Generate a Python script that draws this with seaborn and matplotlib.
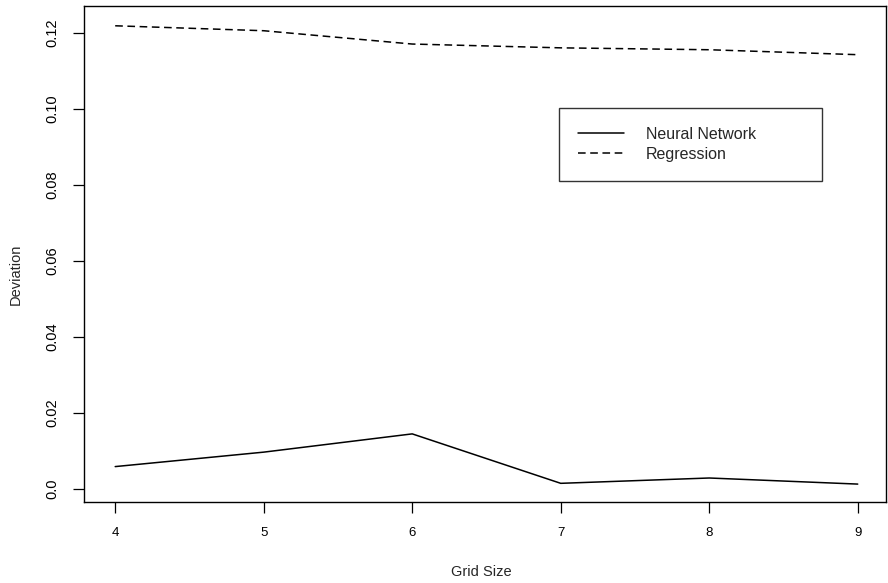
import pandas as pd
import numpy as np
import matplotlib
matplotlib.use('Agg')
import matplotlib.pyplot as plt
import seaborn as sns

grid_size = [4, 5, 6, 7, 8, 9]
neural_network = [0.0059, 0.0097, 0.0145, 0.0015, 0.0029, 0.0013]
regression = [0.1218, 0.1205, 0.1170, 0.1160, 0.1155, 0.1142]
y_ticks = [0.0, 0.02, 0.04, 0.06, 0.08, 0.10, 0.12]
y_tick_labels = ['0.0', '0.02', '0.04', '0.06', '0.08', '0.10', '0.12']

data = pd.DataFrame({
    'grid': grid_size * 2,
    'dev': neural_network + regression,
    'method': ['Neural Network'] * 6 + ['Regression'] * 6,
})

sns.set_style('ticks')
plt.rcParams['font.family'] = ['Liberation Sans', 'DejaVu Sans']

fig = plt.figure(figsize=(8.88, 5.83), dpi=100)
ax = fig.add_axes([0.0946, 0.139, 0.9031, 0.8507])

sns.lineplot(ax=ax, data=data, x='grid', y='dev', hue='method', style='method',
             palette=['black', 'black'], dashes=[(None, None), (5, 3)],
             linewidth=1.1)

ax.set_xlim(3.79, 9.19)
ax.set_ylim(-0.0034, 0.127)
ax.set_xticks(grid_size)
ax.set_xticklabels([str(g) for g in grid_size], fontsize=9.5)
ax.set_yticks(y_ticks)
ax.set_yticklabels(y_tick_labels, fontsize=10.5, rotation=90, va='center')
ax.tick_params(axis='both', direction='out', length=8, width=0.9, colors='black')
ax.tick_params(axis='x', pad=10)
ax.tick_params(axis='y', pad=10)
for s in ax.spines.values():
    s.set_visible(True)
    s.set_color('black')
    s.set_linewidth(1.0)

ax.set_xlabel('Grid Size', fontsize=10.5)
ax.set_ylabel('Deviation', fontsize=10.5)
ax.xaxis.set_label_coords(0.495, -0.128)
ax.yaxis.set_label_coords(-0.077, 0.46)

leg = ax.legend(loc='center', bbox_to_anchor=(0.592, 0.655, 0.328, 0.133),
                mode='expand', frameon=True, fancybox=False, edgecolor='black',
                fontsize=11.5, handlelength=2.9, handletextpad=1.35,
                borderpad=1.2, labelspacing=0.3, borderaxespad=0)
leg.get_frame().set_linewidth(1.0)
leg.set_title(None)

plt.savefig('out.png', dpi=100)
plt.close('all')
